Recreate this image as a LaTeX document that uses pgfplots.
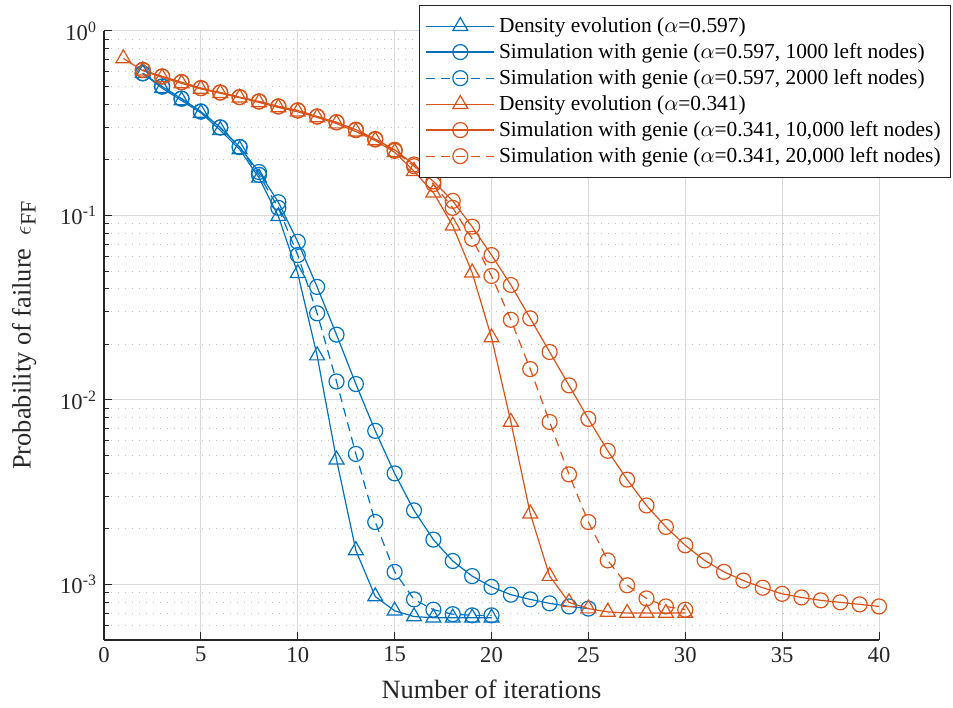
\documentclass[border=0pt]{standalone}
\usepackage{fontspec}
\setmainfont{Liberation Serif}
\usepackage{pgfplots}
\pgfplotsset{compat=1.18}

\definecolor{mblue}{rgb}{0,0.447,0.741}
\definecolor{morange}{rgb}{0.85,0.325,0.098}
\definecolor{axgray}{rgb}{0.15,0.15,0.15}

\begin{document}
\begin{tikzpicture}
\begin{axis}[
  scale only axis,
  width=387.5pt, height=304.5pt,
  ymode=log,
  xmin=0, xmax=40, ymin=5e-4, ymax=1,
  xtick={0,5,...,40},
  ytick={1e-3,1e-2,1e-1,1},
  yticklabels={10\textsuperscript{-3},10\textsuperscript{-2},10\textsuperscript{-1},10\textsuperscript{0}},
  minor ytick={6e-4,7e-4,8e-4,9e-4,2e-3,3e-3,4e-3,5e-3,6e-3,7e-3,8e-3,9e-3,
    2e-2,3e-2,4e-2,5e-2,6e-2,7e-2,8e-2,9e-2,2e-1,3e-1,4e-1,5e-1,6e-1,7e-1,8e-1,9e-1},
  /pgf/number format/assume math mode=true,
  axis x line*=bottom, axis y line*=left,
  axis line style={axgray, line width=0.6pt},
  tick style={axgray, line width=0.5pt},
  major tick length=4pt, minor tick length=2.5pt,
  tick align=inside,
  grid=both,
  major grid style={draw=gray!30, line width=0.5pt},
  minor grid style={draw=gray!50, line width=0.5pt, dash pattern=on 0.7pt off 2.8pt},
  ticklabel style={font=\fontsize{11.3}{13}\selectfont, text=axgray},
  xlabel={Number of iterations},
  ylabel={Probability of failure \ $\epsilon$\raisebox{-0.4ex}{\fontsize{11}{13}\selectfont FF}},
  label style={font=\fontsize{13.2}{15}\selectfont, text=axgray},
  xlabel style={yshift=-2pt},
  ylabel style={yshift=5pt},
  every axis plot/.append style={line width=0.6pt},
  mark options={solid},
  legend style={at={(1.093,1.043)}, anchor=north east, draw=axgray, fill=white,
    font=\fontsize{10.7}{13.3}\selectfont, inner xsep=3pt, inner ysep=4pt,
    row sep=0pt},
  legend cell align=left,
  legend image code/.code={
    \draw[mark repeat=2,mark phase=2,#1] plot coordinates {(0cm,0cm) (0.6cm,0cm) (1.2cm,0cm)};},
]
% Density evolution alpha=0.597
\addplot[mblue, mark=triangle, mark size=4.3pt] coordinates {
  (2,0.59) (3,0.49) (4,0.42) (5,0.36) (6,0.29) (7,0.228) (8,0.16) (9,0.099)
  (10,0.0486) (11,0.0174) (12,0.00475) (13,0.00153) (14,0.00086) (15,0.00072)
  (16,0.00067) (17,0.00066) (18,0.00066) (19,0.00066) (20,0.00066)
};
\addlegendentry{Density evolution ($\alpha$=0.597)}
% Simulation alpha=0.597, 1000 nodes
\addplot[mblue, mark=o, mark size=3.75pt] coordinates {
  (2,0.59) (3,0.50) (4,0.43) (5,0.366) (6,0.30) (7,0.235) (8,0.172) (9,0.118)
  (10,0.072) (11,0.041) (12,0.0226) (13,0.0122) (14,0.0068) (15,0.0040)
  (16,0.00252) (17,0.00175) (18,0.00134) (19,0.00111) (20,0.00097) (21,0.00088)
  (22,0.00083) (23,0.00079) (24,0.00076) (25,0.00074)
};
\addlegendentry{Simulation with genie ($\alpha$=0.597, 1000 left nodes)}
% Simulation alpha=0.597, 2000 nodes
\addplot[mblue, mark=o, mark size=3.75pt, dash pattern=on 4.5pt off 3pt] coordinates {
  (2,0.59) (3,0.50) (4,0.43) (5,0.366) (6,0.30) (7,0.235) (8,0.166) (9,0.110)
  (10,0.061) (11,0.0295) (12,0.0126) (13,0.0051) (14,0.00218) (15,0.00117)
  (16,0.00083) (17,0.00073) (18,0.00069) (19,0.00068) (20,0.00068)
};
\addlegendentry{Simulation with genie ($\alpha$=0.597, 2000 left nodes)}
% Density evolution alpha=0.341
\addplot[morange, mark=triangle, mark size=4.3pt] coordinates {
  (1,0.71) (2,0.61) (3,0.56) (4,0.52) (5,0.485) (6,0.46) (7,0.435) (8,0.41)
  (9,0.385) (10,0.365) (11,0.34) (12,0.315) (13,0.285) (14,0.255) (15,0.22)
  (16,0.174) (17,0.133) (18,0.088) (19,0.049) (20,0.0218) (21,0.0076)
  (22,0.00242) (23,0.00111) (24,0.0008) (25,0.00074) (26,0.00071) (27,0.0007)
  (28,0.0007) (29,0.0007) (30,0.0007)
};
\addlegendentry{Density evolution ($\alpha$=0.341)}
% Simulation alpha=0.341, 10000 nodes
\addplot[morange, mark=o, mark size=3.75pt] coordinates {
  (2,0.615) (3,0.567) (4,0.528) (5,0.49) (6,0.464) (7,0.438) (8,0.415) (9,0.39)
  (10,0.371) (11,0.344) (12,0.32) (13,0.292) (14,0.26) (15,0.227) (16,0.189)
  (17,0.153) (18,0.12) (19,0.087) (20,0.061) (21,0.042) (22,0.0277) (23,0.0182)
  (24,0.012) (25,0.0079) (26,0.0053) (27,0.0037) (28,0.00268) (29,0.00205)
  (30,0.00163) (31,0.00135) (32,0.00117) (33,0.00105) (34,0.00096) (35,0.00089)
  (36,0.00085) (37,0.00082) (38,0.0008) (39,0.00078) (40,0.00076)
};
\addlegendentry{Simulation with genie ($\alpha$=0.341, 10,000 left nodes)}
% Simulation alpha=0.341, 20000 nodes
\addplot[morange, mark=o, mark size=3.75pt, dash pattern=on 4.5pt off 3pt] coordinates {
  (2,0.615) (3,0.567) (4,0.528) (5,0.49) (6,0.464) (7,0.438) (8,0.415) (9,0.39)
  (10,0.371) (11,0.344) (12,0.32) (13,0.29) (14,0.258) (15,0.224) (16,0.185)
  (17,0.148) (18,0.110) (19,0.0748) (20,0.047) (21,0.0272) (22,0.0147)
  (23,0.0076) (24,0.00395) (25,0.00218) (26,0.00135) (27,0.00099) (28,0.00084)
  (29,0.00076) (30,0.00073)
};
\addlegendentry{Simulation with genie ($\alpha$=0.341, 20,000 left nodes)}
\end{axis}
\path (current axis.south west) +(-52pt,-34pt) (current axis.north east) +(37pt,15.5pt);
\end{tikzpicture}
\end{document}
